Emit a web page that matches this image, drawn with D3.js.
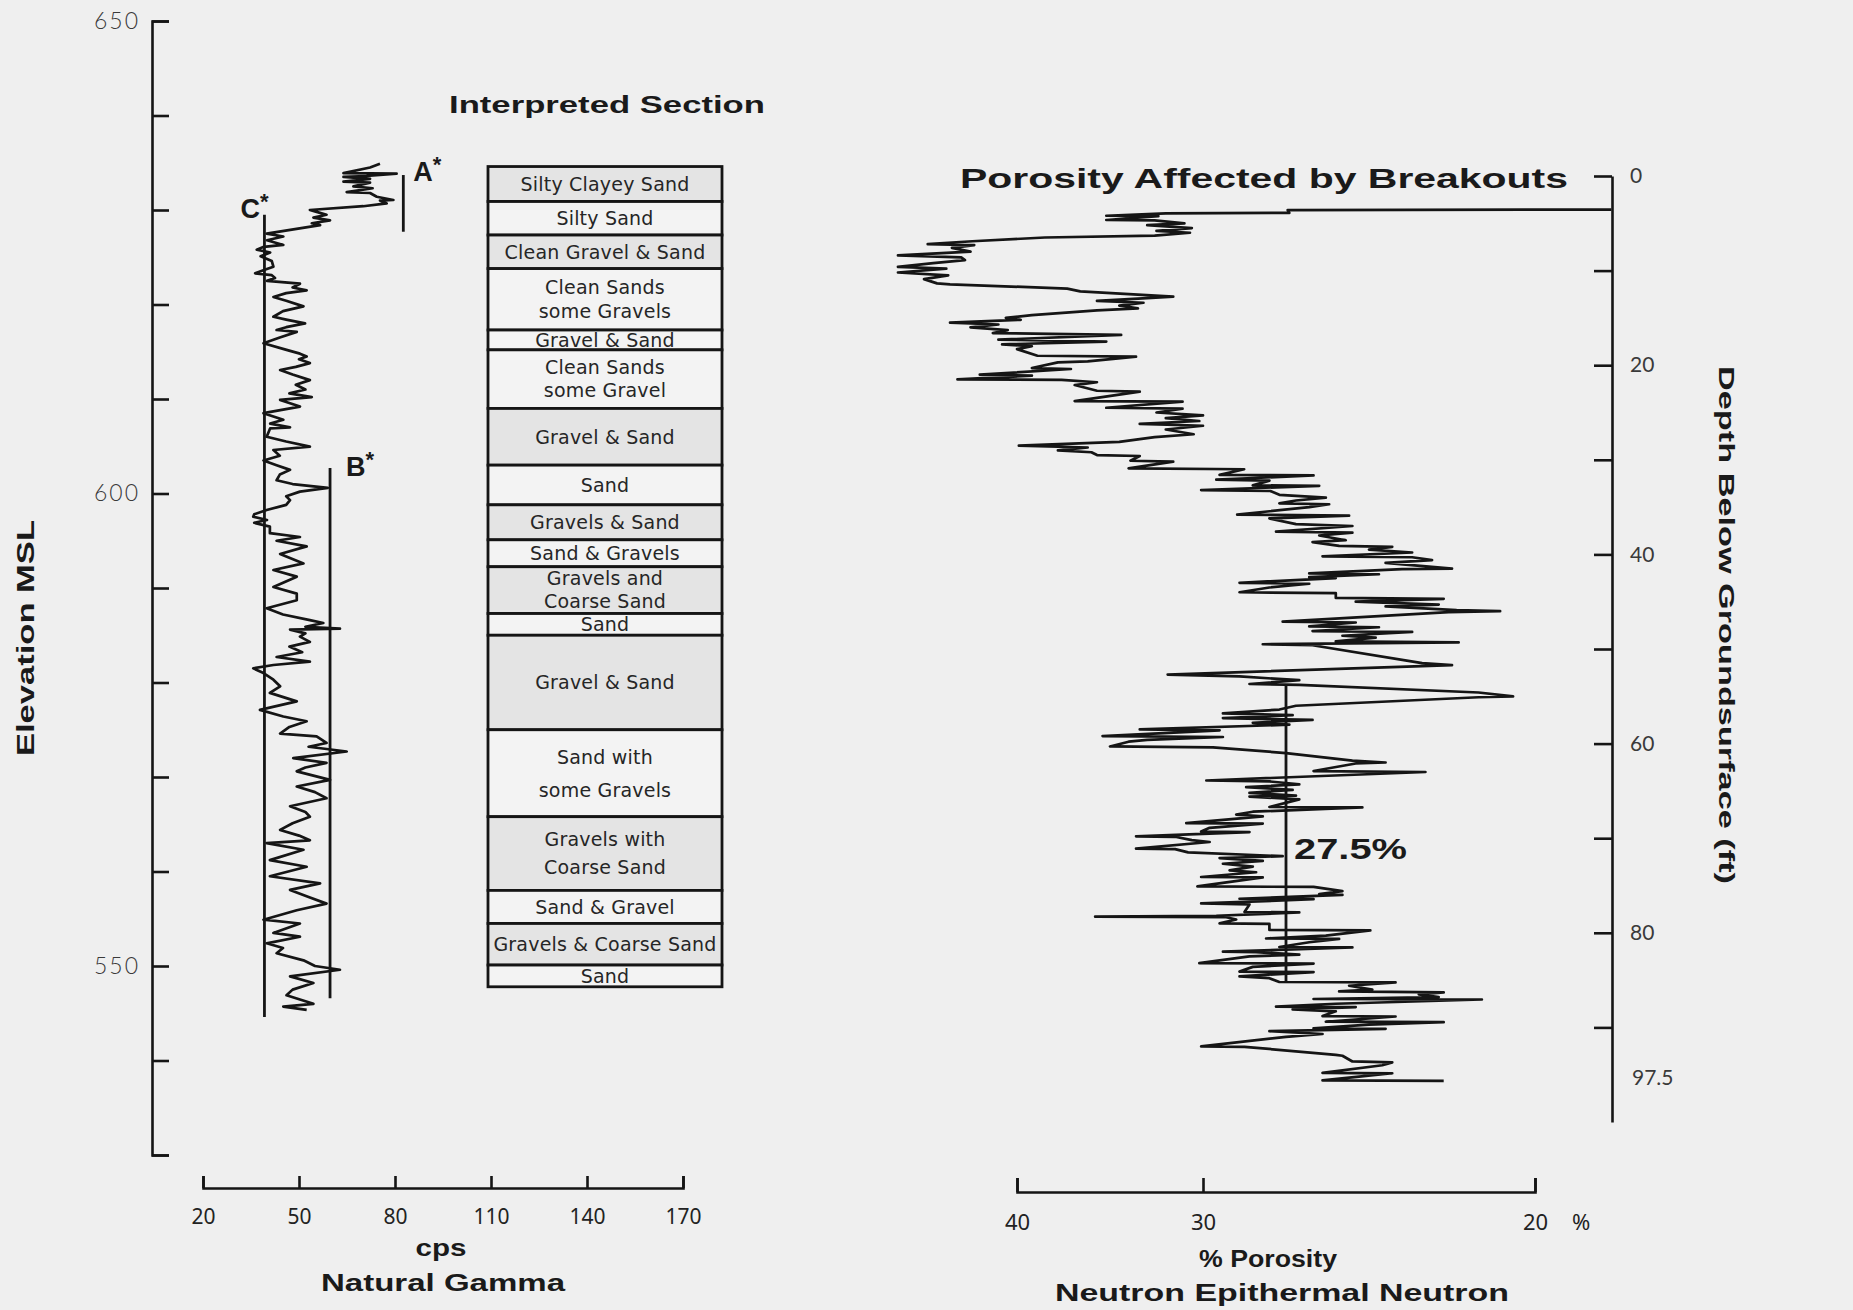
<!DOCTYPE html>
<html lang="en">
<head>
<meta charset="UTF-8">
<title>Natural Gamma and Neutron Porosity Logs</title>
<script src="https://cdn.jsdelivr.net/npm/d3@7/dist/d3.min.js"></script>
<style>
  body { margin: 0; background: #efefef; }
  svg { display: block; }
  .title { font-family: "Liberation Sans", Arial, sans-serif; font-weight: bold; fill: #1a1a1a; }
  .layer-label { font-family: "DejaVu Sans", sans-serif; font-size: 19px; letter-spacing: 0.2px; fill: #262626; }
</style>
</head>
<body>
<svg id="chart" width="1853" height="1310"></svg>
<script>
// ---- axis ticks ----
var elevTicks = d3.range(530, 651, 10);
var elevLabels = [650, 600, 550];
var gammaTicks = [20, 50, 80, 110, 140, 170];
var depthTicks = d3.range(0, 91, 10);
var depthLabels = [0, 20, 40, 60, 80];
var porosityTicks = [40, 30, 20];

// ---- interpreted section (elevation, ft MSL) ----
var layerTop  = [634.6, 630.9, 627.35, 623.8, 617.3, 615.2, 609.0, 603.0, 598.8, 595.1, 592.25, 587.3, 585.0, 575.0, 565.8, 558.0, 554.5, 550.1];
var layerBase = [630.9, 627.35, 623.8, 617.3, 615.2, 609.0, 603.0, 598.8, 595.1, 592.25, 587.3, 585.0, 575.0, 565.8, 558.0, 554.5, 550.1, 547.8];
var layerName = ["Silty Clayey Sand", "Silty Sand", "Clean Gravel & Sand", "Clean Sands|some Gravels",
  "Gravel & Sand", "Clean Sands|some Gravel", "Gravel & Sand", "Sand", "Gravels & Sand", "Sand & Gravels",
  "Gravels and|Coarse Sand", "Sand", "Gravel & Sand", "Sand with|some Gravels", "Gravels with|Coarse Sand",
  "Sand & Gravel", "Gravels & Coarse Sand", "Sand"];
var layerShaded = [1, 0, 1, 0, 0, 0, 1, 0, 1, 0, 1, 0, 1, 0, 1, 0, 1, 0];

// ---- reference lines on the gamma log ----
var gammaMarkName = ["A", "B", "C"];
var gammaMarkCps = [82.6, 59.7, 39.2];
var gammaMarkTop = [633.7, 602.7, 629.5];
var gammaMarkBase = [627.7, 546.6, 544.6];

// ---- natural gamma log: [elevation, cps] ----
var gammaLog = [
[634.9,75.3],[634.5,72.2],[633.9,63.9],[633.85,80.5],[633.6,71.1],[633.5,63.9],[633.3,72.2],[633.0,63.9],[632.9,72.2],
[632.5,67.0],[632.3,73.0],[631.9,64.9],[631.8,72.2],[631.4,74.3],[631.06,79.5],[631.0,75.3],[630.7,77.4],[630.4,70.1],
[630.0,53.4],[629.8,55.5],[629.5,58.6],[629.2,54.5],[628.9,59.7],[628.6,54.0],[628.4,56.6],[627.5,39.9],[627.2,45.1],
[626.8,40.0],[626.3,45.1],[626.1,39.0],[625.8,36.8],[625.5,41.0],[625.1,38.0],[624.6,41.5],[624.0,42.0],[623.7,39.5],
[623.3,36.3],[623.1,41.5],[622.8,42.5],[622.5,40.0],[622.2,50.3],[621.8,48.0],[621.5,52.4],[621.2,46.0],[620.8,42.0],
[620.4,46.0],[619.8,51.4],[619.3,45.0],[618.7,42.0],[618.4,46.0],[618.0,51.9],[617.6,46.0],[617.3,43.0],[617.1,49.3],
[616.5,44.0],[615.9,38.9],[615.2,46.1],[614.8,50.3],[614.5,52.4],[614.2,50.0],[613.8,53.4],[613.4,49.0],[613.07,44.1],
[612.6,48.0],[612.0,53.4],[611.5,49.0],[611.0,52.0],[610.6,47.0],[610.2,54.0],[609.9,44.1],[609.2,50.3],[608.5,38.9],
[607.8,45.1],[607.4,41.0],[607.0,47.2],[606.9,41.0],[606.0,39.9],[605.5,46.0],[604.96,53.4],[604.6,42.0],[604.0,44.0],
[603.5,38.9],[603.0,43.0],[602.5,47.2],[602.0,44.0],[601.4,43.0],[601.0,48.0],[600.6,59.0],[600.2,50.3],[599.7,46.0],
[599.3,47.2],[598.8,46.0],[598.25,39.9],[597.8,36.0],[597.55,35.7],[597.2,40.0],[596.9,36.0],[596.5,40.9],[595.8,40.9],
[595.4,50.3],[595.0,43.0],[594.4,52.4],[593.6,44.1],[592.6,51.4],[591.9,42.0],[591.2,49.3],[590.1,42.0],[589.4,49.3],
[588.7,49.3],[587.85,39.9],[587.2,45.0],[586.6,53.4],[586.3,57.6],[585.9,52.0],[585.7,62.8],[585.6,47.2],[585.2,52.0],
[584.85,50.3],[584.3,53.4],[583.8,47.0],[583.2,51.0],[582.7,43.0],[582.2,53.4],[581.85,42.0],[581.5,35.7],[581.0,38.9],
[580.3,42.0],[579.6,44.1],[578.9,40.9],[578.0,49.3],[577.1,37.8],[576.4,45.1],[575.9,52.4],[575.3,47.0],[574.6,44.1],
[574.3,55.5],[573.6,58.6],[573.2,53.0],[572.7,64.9],[572.0,48.2],[571.5,58.6],[571.0,52.0],[570.6,49.3],[569.7,59.7],
[569.0,49.3],[568.4,55.0],[567.75,58.6],[566.9,47.2],[566.3,52.0],[565.8,53.4],[565.1,48.0],[564.4,44.1],[563.8,50.0],
[563.3,53.4],[563.0,39.9],[562.3,51.4],[561.2,40.9],[560.5,52.4],[559.5,40.9],[558.75,56.6],[558.05,47.2],[557.3,53.0],
[556.6,58.6],[555.9,49.3],[554.9,38.9],[554.5,50.3],[553.5,42.0],[553.1,50.3],[552.4,39.9],[551.9,45.0],[551.35,43.0],
[550.6,51.4],[550.0,55.0],[549.6,62.8],[548.9,47.2],[548.2,54.5],[547.5,48.0],[546.9,46.1],[546.0,54.5],[545.7,45.1],
[545.35,52.4]
];

// ---- epithermal neutron porosity log: [depth ft, porosity %] ----
var porosityLog = [
[3.55,17.7],[3.6,27.45],[3.9,27.4],[3.95,32.0],[4.2,35.2],[4.25,32.4],[4.65,35.2],[4.7,32.6],[5.0,31.0],[5.2,33.0],
[5.5,30.6],[5.8,32.5],[6.0,30.7],[6.3,32.6],[6.5,38.5],[6.9,42.4],[7.2,44.8],[7.3,42.3],[7.6,43.5],[8.0,42.5],
[8.4,46.4],[8.6,43.0],[8.9,42.8],[9.2,44.5],[9.6,46.4],[9.8,43.8],[10.2,46.4],[10.5,43.7],[10.9,45.0],[11.35,44.3],
[11.45,43.6],[11.9,37.3],[12.2,36.6],[12.75,31.6],[12.9,33.0],[13.2,35.7],[13.4,33.2],[13.7,34.5],[14.0,33.5],[14.2,35.7],
[14.7,39.2],[15.0,40.6],[15.2,39.8],[15.5,43.6],[15.7,41.0],[16.0,42.5],[16.3,40.5],[16.6,41.3],[16.8,34.4],[17.3,41.0],
[17.5,35.2],[17.8,40.8],[18.0,39.2],[18.3,40.0],[19.0,38.9],[19.1,33.6],[19.6,36.2],[19.7,37.8],[20.3,39.2],[20.4,37.1],
[21.0,42.0],[21.1,39.2],[21.5,43.2],[21.55,37.6],[21.8,35.7],[22.1,36.9],[22.7,35.7],[22.8,33.4],[23.8,36.9],[23.85,31.1],
[24.5,35.2],[24.6,31.1],[25.0,32.5],[25.3,30.0],[25.6,32.0],[25.9,30.2],[26.2,33.4],[26.4,30.0],[26.8,32.0],[27.3,30.5],
[27.6,32.6],[28.1,34.5],[28.5,39.9],[28.7,36.2],[29.0,37.8],[29.2,36.0],[29.5,35.7],[29.6,33.4],[30.1,33.9],[30.2,31.6],
[30.9,34.0],[31.0,28.76],[31.6,29.5],[31.65,26.67],[32.1,29.6],[32.2,28.0],[32.7,28.5],[32.75,26.5],[33.2,30.1],[33.3,27.97],
[33.7,27.7],[34.0,26.3],[34.3,27.2],[34.6,27.7],[34.7,26.2],[35.0,26.8],[35.8,28.97],[35.9,25.6],[36.2,28.0],[36.8,27.2],
[37.0,25.5],[37.6,27.8],[37.7,25.5],[38.0,26.5],[38.5,25.7],[38.7,26.7],[39.1,25.9],[39.2,24.3],[39.5,25.0],[39.8,23.7],
[40.2,26.4],[40.3,23.7],[40.6,23.1],[40.9,24.5],[41.5,22.5],[41.55,24.0],[42.0,26.8],[42.1,24.7],[42.4,26.8],[42.5,26.0],
[43.0,28.9],[43.1,26.8],[43.5,28.0],[44.0,28.9],[44.1,26.0],[44.6,26.0],[44.7,22.75],[45.0,25.4],[45.3,22.9],[45.5,24.5],
[45.9,22.36],[46.0,21.05],[46.1,22.6],[47.1,27.6],[47.2,25.4],[47.6,26.8],[47.7,24.7],[48.1,26.7],[48.2,23.7],[48.6,25.8],
[48.8,24.8],[49.2,26.0],[49.3,22.3],[49.5,28.2],[49.6,26.7],[51.5,23.4],[51.7,22.5],[51.8,23.4],[52.7,31.9],[52.9,28.9],
[53.3,27.1],[53.7,28.6],[53.8,27.1],[54.6,21.7],[55.0,20.66],[55.1,21.7],[56.0,27.2],[56.4,27.7],[56.8,29.4],[57.0,27.3],
[57.3,29.4],[57.5,26.7],[57.8,28.5],[58.0,27.4],[58.5,33.4],[58.6,29.5],[59.2,35.4],[59.3,29.4],[59.6,33.0],[59.8,34.0],
[60.3,35.0],[60.4,29.7],[61.0,27.5],[61.8,25.5],[62.0,24.5],[62.1,25.4],[62.9,26.67],[63.0,23.3],[63.9,29.9],[64.0,28.0],
[64.3,27.1],[64.6,28.7],[64.9,27.3],[65.2,28.6],[65.5,27.2],[65.6,28.6],[65.9,27.1],[66.7,28.0],[66.75,25.2],[67.2,28.5],
[67.5,29.0],[67.7,28.2],[68.4,30.9],[68.45,28.2],[68.9,29.8],[69.3,30.1],[69.35,28.6],[69.8,33.6],[69.85,31.5],[70.2,30.6],
[70.4,29.8],[71.1,33.6],[71.15,31.5],[71.5,30.8],[71.9,27.6],[72.1,29.5],[72.4,28.2],[72.7,29.4],[73.0,28.5],[73.4,29.2],
[73.6,28.4],[74.1,30.1],[74.15,28.2],[75.1,30.3],[75.15,26.67],[75.6,25.8],[75.9,26.5],[76.0,25.8],[76.4,28.9],[76.45,26.67],
[76.9,30.1],[77.0,28.6],[77.8,28.75],[77.85,27.1],[78.2,29.6],[78.3,35.8],[78.35,29.3],[78.6,29.0],[79.0,29.5],[79.05,28.0],
[79.7,28.0],[79.75,24.96],[80.3,26.3],[80.6,28.1],[80.65,25.9],[81.0,26.8],[81.5,27.7],[81.55,25.5],[82.0,29.4],[82.05,28.4],
[82.3,27.1],[82.5,28.6],[83.2,30.2],[83.25,26.67],[83.6,28.5],[84.1,28.9],[84.15,26.67],[84.6,28.9],[84.8,28.0],[85.2,27.7],
[85.25,24.2],[85.6,25.6],[86.0,24.9],[86.2,25.9],[86.3,22.75],[86.5,23.5],[86.8,22.9],[87.0,26.67],[87.05,21.6],[87.5,26.0],
[87.8,27.8],[87.85,25.4],[88.1,27.3],[88.3,26.0],[88.8,26.4],[88.85,24.2],[89.4,26.3],[89.45,22.75],[89.7,25.0],[90.1,26.67],
[90.15,24.5],[90.4,28.0],[90.7,26.4],[91.0,27.5],[92.0,30.1],[92.05,28.75],[92.9,26.0],[93.0,25.8],[93.6,25.5],[93.7,24.3],
[94.0,24.6],[94.8,26.4],[94.85,24.3],[95.2,25.3],[95.6,26.4],[95.65,22.75]
];

// average porosity line
var porosityMark = 27.5;
var porosityMarkTop = 53.8;
var porosityMarkBase = 85.3;

// ---------------------------------------------------------------
var W = 1853, H = 1310;
var ink = '#151515';
var svg = d3.select('#chart');
svg.append('rect').attr('width', W).attr('height', H).attr('fill', '#efefef');

var elev = d3.scaleLinear().domain([650, 530]).range([21, 1155]);
var cps = d3.scaleLinear().domain([20, 170]).range([203, 683]);
var depth = d3.scaleLinear().domain([0, 100]).range([176, 1122]);
var poro = d3.scaleLinear().domain([40, 30, 20]).range([1017, 1203, 1535]); // log scale is not linear
var column = d3.scaleLinear().domain([0, 1]).range([488, 722]);

function styleAxis(g, size, family, weight, fill) {
    g.attr('font-family', family).attr('font-size', size);
    g.select('.domain').attr('stroke', ink).attr('stroke-width', 2.6);
    g.selectAll('.tick line').attr('stroke', ink).attr('stroke-width', 2.6);
    g.selectAll('.tick text').attr('fill', fill).attr('font-weight', weight);
}

// elevation axis (left)
svg.append('g')
    .attr('transform', 'translate(152,0)')
    .call(d3.axisLeft(elev).tickValues(elevTicks).tickSize(-17).tickSizeOuter(-17).tickPadding(12)
        .tickFormat(function(d){ return elevLabels.indexOf(d) >= 0 ? d : ''; }))
    .call(function(g){ styleAxis(g, 23, 'Lato, sans-serif', 300, '#3a3a3a'); g.selectAll('.tick text').attr('letter-spacing', 2); });

// gamma axis (bottom left)
svg.append('g')
    .attr('transform', 'translate(0,1188)')
    .call(d3.axisBottom(cps).tickValues(gammaTicks).tickSize(-12).tickSizeOuter(-12).tickPadding(21))
    .call(function(g){ styleAxis(g, 21, '"Noto Sans", sans-serif', 400, '#222'); });

// depth axis (right)
svg.append('g')
    .attr('transform', 'translate(1612,0)')
    .call(d3.axisRight(depth).tickValues(depthTicks).tickSize(-18).tickSizeOuter(0).tickPadding(18)
        .tickFormat(function(d){ return depthLabels.indexOf(d) >= 0 ? d : ''; }))
    .call(function(g){ styleAxis(g, 21, 'Lato, sans-serif', 400, '#3a3a3a'); });

svg.append('text')
    .attr('x', 1612 + 20).attr('y', depth(97.5)).attr('dy', '-0.62em')
    .attr('font-family', 'Lato, sans-serif').attr('font-size', 21).attr('fill', '#3a3a3a')
    .text('97.5');

// porosity axis (bottom right)
svg.append('g')
    .attr('transform', 'translate(0,1192)')
    .call(d3.axisBottom(poro).tickValues(porosityTicks).tickSize(-14).tickSizeOuter(-14).tickPadding(22))
    .call(function(g){ styleAxis(g, 22, '"Noto Sans", sans-serif', 400, '#222'); });

svg.append('text')
    .attr('x', poro(20) + 37).attr('y', 1192 + 22).attr('dy', '0.71em')
    .attr('font-family', '"Noto Sans", sans-serif').attr('font-size', 22).attr('fill', '#222')
    .text('%');

// interpreted section boxes
var layers = layerName.map(function(n, i){
    return {name: n, top: layerTop[i], base: layerBase[i], shaded: layerShaded[i]};
});
var lg = svg.append('g');
lg.selectAll('rect').data(layers).enter().append('rect')
    .attr('x', column(0))
    .attr('width', column(1) - column(0))
    .attr('y', function(d){ return elev(d.top); })
    .attr('height', function(d){ return elev(d.base) - elev(d.top); })
    .attr('fill', function(d){ return d.shaded ? '#e4e4e4' : '#f3f3f3'; })
    .attr('stroke', ink).attr('stroke-width', 2.8);

lg.selectAll('text').data(layers).enter().append('text')
    .attr('class', 'layer-label')
    .attr('text-anchor', 'middle')
    .each(function(d){
        var lines = d.name.split('|');
        var h = elev(d.base) - elev(d.top);
        var gap = Math.max(23, Math.min(33, h * 0.38));
        var cy = (elev(d.top) + elev(d.base)) / 2;
        var t = d3.select(this);
        lines.forEach(function(s, k){
            t.append('tspan')
                .attr('x', column(0.5))
                .attr('y', cy + (k - (lines.length - 1) / 2) * gap)
                .attr('dy', '0.36em')
                .text(s);
        });
    });

// gamma reference lines
var marks = gammaMarkName.map(function(n, i){
    return {name: n, cps: gammaMarkCps[i], top: gammaMarkTop[i], base: gammaMarkBase[i]};
});
svg.append('g').selectAll('line').data(marks).enter().append('line')
    .attr('x1', function(d){ return cps(d.cps); }).attr('x2', function(d){ return cps(d.cps); })
    .attr('y1', function(d){ return elev(d.top); }).attr('y2', function(d){ return elev(d.base); })
    .attr('stroke', ink).attr('stroke-width', 2.8);

var markOffset = {A: [10, 6, 'start'], B: [16, 8, 'start'], C: [4, 3, 'end']};
svg.append('g').selectAll('text').data(marks).enter().append('text')
    .attr('class', 'title')
    .attr('font-size', 27)
    .attr('x', function(d){ return cps(d.cps) + markOffset[d.name][0]; })
    .attr('y', function(d){ return elev(d.top) + markOffset[d.name][1]; })
    .attr('text-anchor', function(d){ return markOffset[d.name][2]; })
    .each(function(d){
        var t = d3.select(this);
        t.append('tspan').text(d.name);
        t.append('tspan').attr('dy', -9).attr('font-size', 22).text('*');
    });

// logs
var gammaLine = d3.line().x(function(d){ return cps(d[1]); }).y(function(d){ return elev(d[0]); });
svg.append('path').datum(gammaLog)
    .attr('d', gammaLine).attr('fill', 'none')
    .attr('stroke', ink).attr('stroke-width', 2.7).attr('stroke-linejoin', 'round');

var poroLine = d3.line().x(function(d){ return poro(d[1]); }).y(function(d){ return depth(d[0]); });
svg.append('path').datum(porosityLog)
    .attr('d', poroLine).attr('fill', 'none')
    .attr('stroke', ink).attr('stroke-width', 2.7).attr('stroke-linejoin', 'round');

svg.append('line')
    .attr('x1', poro(porosityMark)).attr('x2', poro(porosityMark))
    .attr('y1', depth(porosityMarkTop)).attr('y2', depth(porosityMarkBase))
    .attr('stroke', ink).attr('stroke-width', 2.8);

svg.append('text').attr('class', 'title')
    .attr('x', poro(porosityMark) + 8).attr('y', depth(71.1))
    .attr('dy', '0.36em').attr('font-size', 30)
    .attr('textLength', 113).attr('lengthAdjust', 'spacingAndGlyphs')
    .text(porosityMark + '%');

// titles and axis names
function title(txt, x, y, size, len, rot) {
    var t = svg.append('text').attr('class', 'title')
        .attr('text-anchor', 'middle').attr('dy', '0.36em')
        .attr('font-size', size).attr('textLength', len).attr('lengthAdjust', 'spacingAndGlyphs')
        .text(txt);
    if (rot) t.attr('transform', 'translate(' + x + ',' + y + ') rotate(' + rot + ')');
    else t.attr('x', x).attr('y', y);
    return t;
}
title('Interpreted Section', 607, 104, 24, 316);
title('Porosity Affected by Breakouts', 1264, 178, 28, 608);
title('Elevation MSL', 26, 638, 23, 236, -90);
title('Depth Below Groundsurface (ft)', 1727, 625, 22, 518, 90);
title('cps', 441, 1247, 24, 51);
title('Natural Gamma', 443, 1283, 23, 244);
title('% Porosity', 1268, 1259, 23, 138);
title('Neutron Epithermal Neutron', 1282, 1293, 23, 454);
</script>
</body>
</html>
